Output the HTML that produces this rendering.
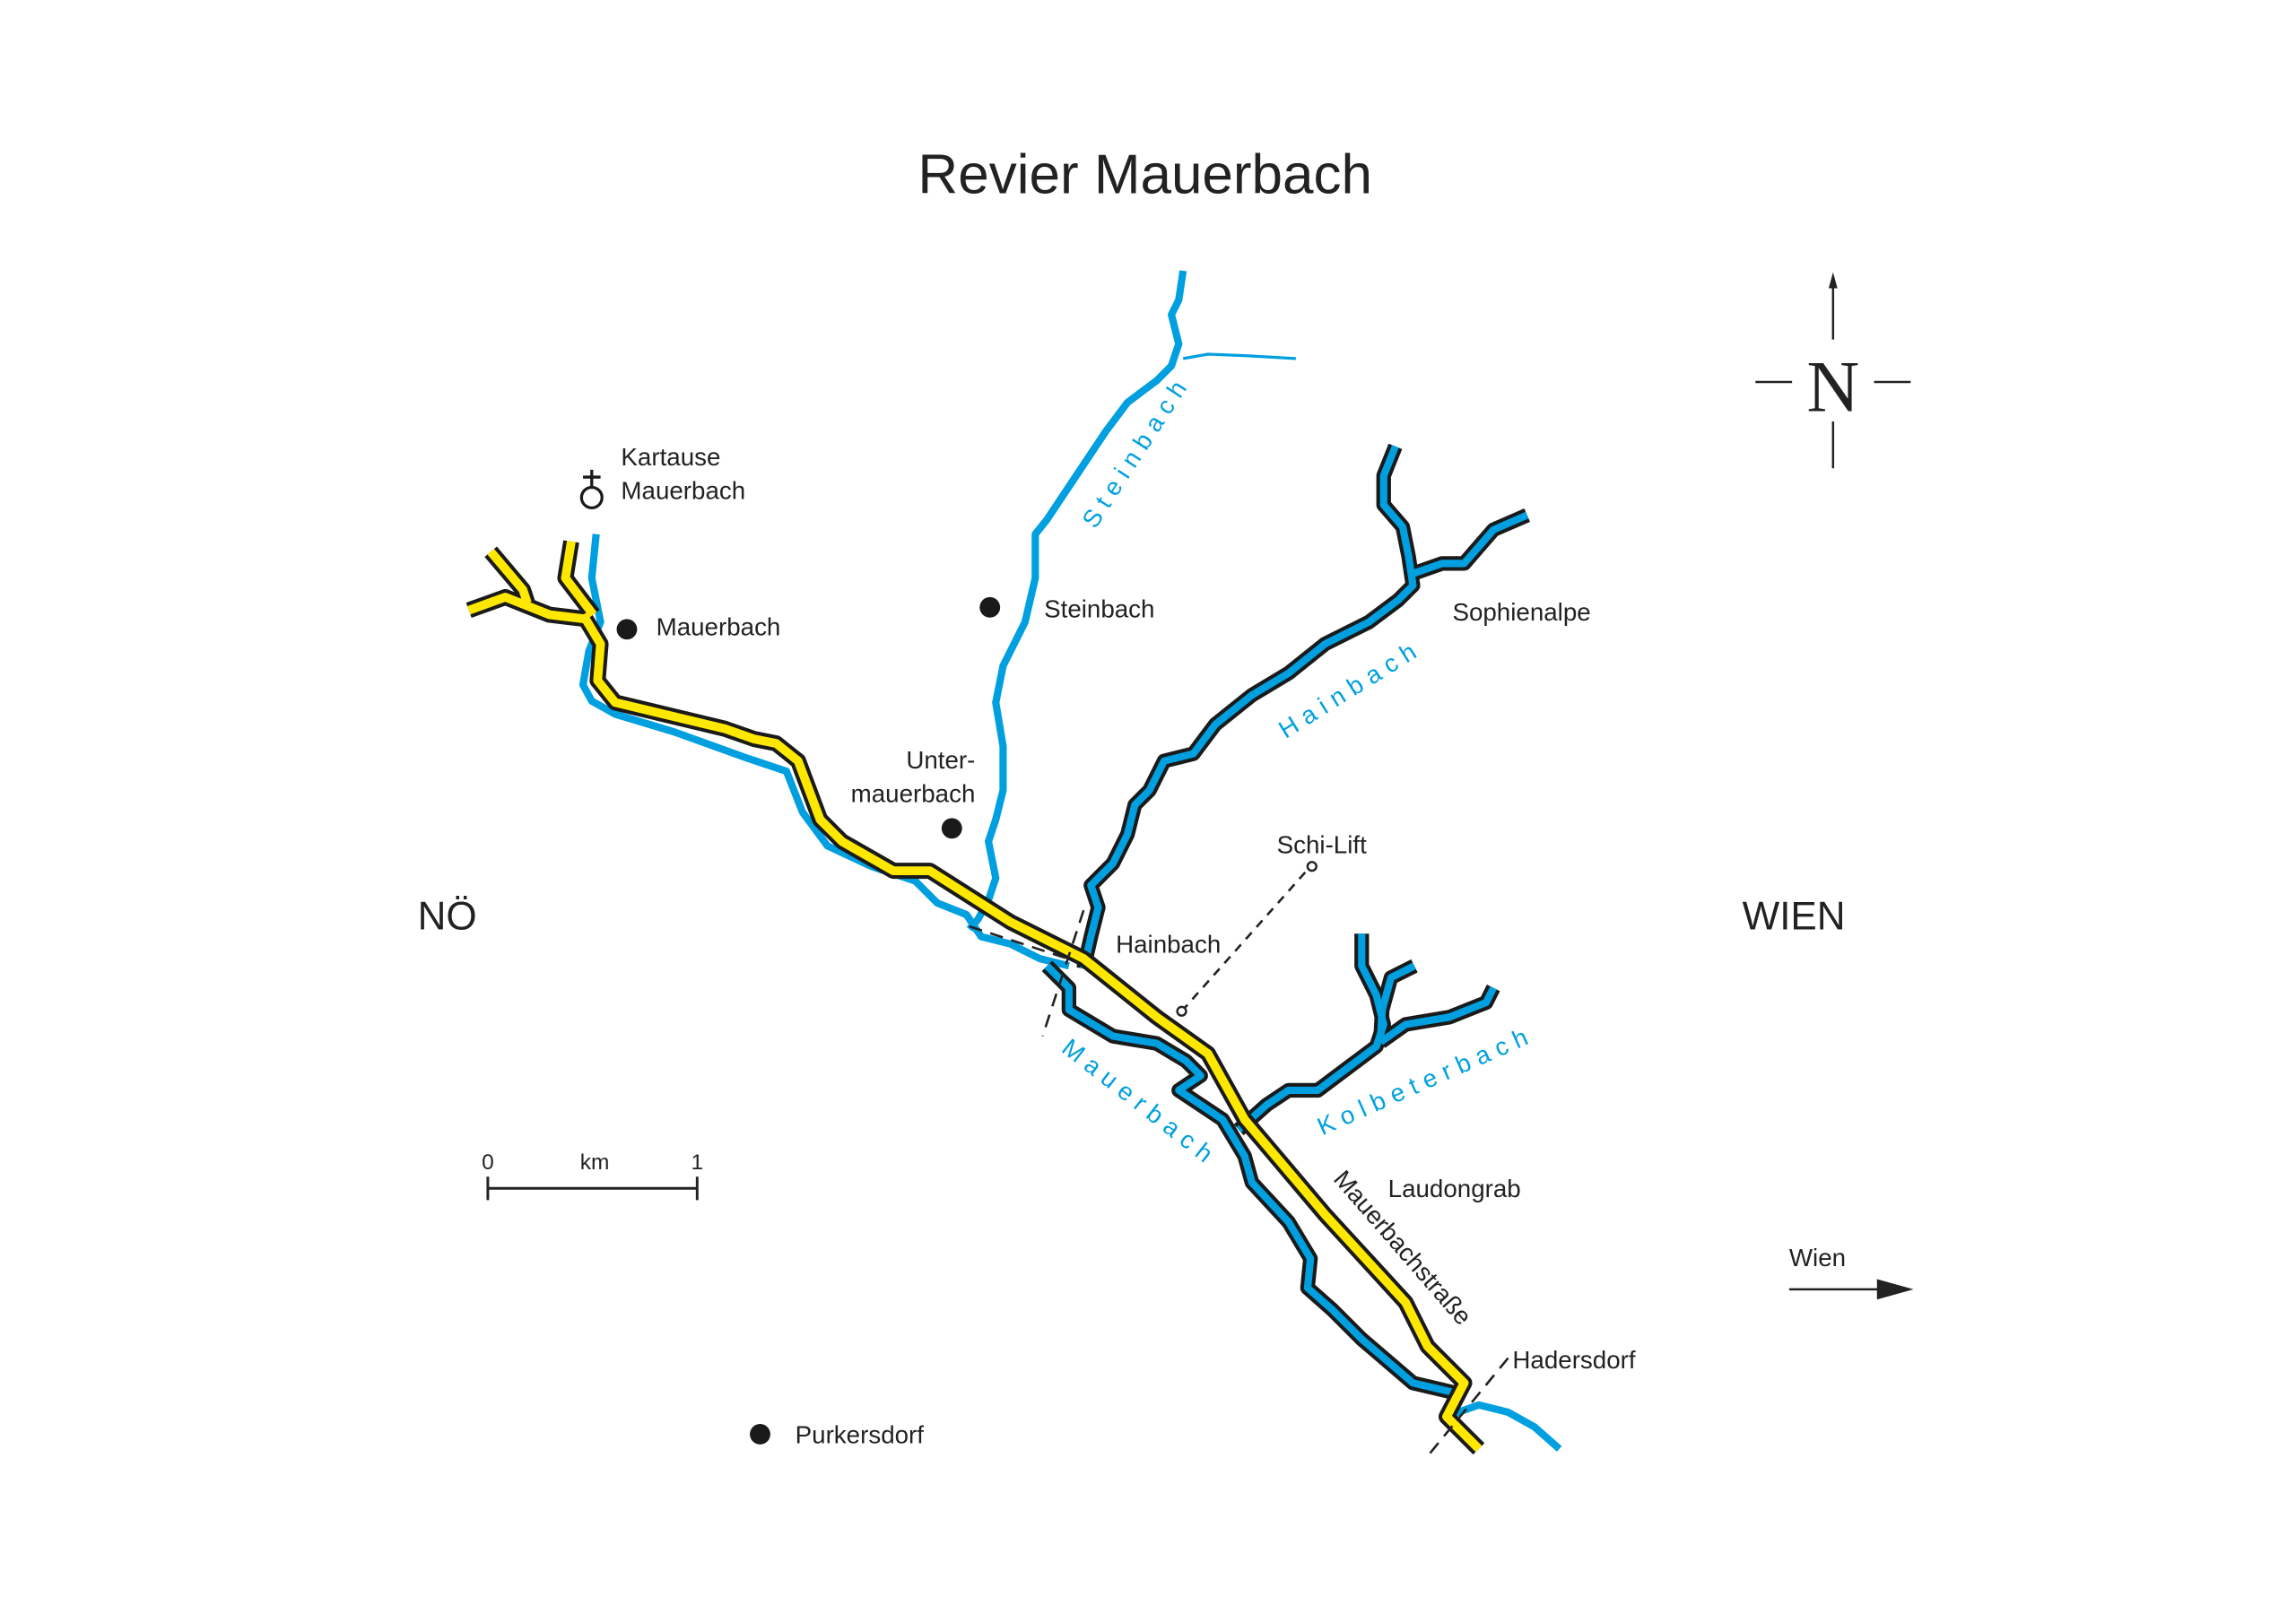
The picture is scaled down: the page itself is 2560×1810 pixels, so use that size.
<!DOCTYPE html>
<html><head><meta charset="utf-8"><style>
html,body{margin:0;padding:0;background:#fff;}
svg{display:block;}
text{font-family:"Liberation Sans",sans-serif;fill:#222;}
.b{fill:#00a0e0;letter-spacing:5px;}
</style></head><body>
<svg width="2560" height="1810" viewBox="0 0 1568 1109" xmlns="http://www.w3.org/2000/svg">
<rect width="1568" height="1109" fill="#fff"/>
<g fill="none" stroke-linecap="butt" stroke-linejoin="round">
<path d="M407,365 L404,395 L410,425 L402,445 L398,468 L404,479 L420,488 L460,500 L510,518 L537,527 L548,555 L565,578 L595,592 L625,602 L640,617 L660,625 L670,640 L690,645 L710,655 L730,660" stroke="#00a0e0" stroke-width="5"/>
<path d="M808,185 L805,205 L800,215 L805,235 L800,250 L790,260 L770,275 L755,295 L735,325 L715,355 L707,365 L707,395 L700,425 L685,455 L680,480 L685,510 L685,540 L680,560 L675,575 L680,600 L675,615 L668,628 L662,635" stroke="#00a0e0" stroke-width="5"/>
<path d="M808,245 L825,242 L850,243 L885,245" stroke="#00a0e0" stroke-width="2"/>
<path d="M993,966 L1010,960 L1030,965 L1048,975 L1065,990" stroke="#00a0e0" stroke-width="5"/>
<g id="os">
<path d="M715,660 L730,675 L730,690 L760,708 L790,713 L810,725 L820,735 L805,745 L835,765 L850,790 L855,808 L880,835 L895,860 L893,880 L910,895 L930,915 L965,945 L995,952"/>
<path d="M953,305 L945,325 L945,345 L958,360 L962,380 L965,400 L955,410 L935,425 L905,440 L880,460 L855,475 L830,495 L815,515 L795,520 L785,540 L775,550 L770,570 L760,590 L745,605 L750,620 L745,640 L740,662"/>
<path d="M965,392 L985,385 L1000,385 L1020,362 L1043,352"/>
<path d="M930,638 L930,660 L940,680 L945,700 L940,715 L920,730 L900,745 L880,745 L865,755 L846,772"/>
<path d="M966,660 L950,668 L944,690 L943,708"/>
<path d="M943,712 L960,700 L990,695 L1015,685 L1020,675"/>
</g>
</g>
<use href="#os" stroke="#1a1a1a" stroke-width="10" fill="none" stroke-linejoin="round"/>
<g fill="none" stroke="#00a0e0" stroke-width="5" stroke-linejoin="round">
<path d="M715,660 L730,675 L730,690 L760,708 L790,713 L810,725 L820,735 L805,745 L835,765 L850,790 L855,808 L880,835 L895,860 L893,880 L910,895 L930,915 L965,945 L995,952"/>
<path d="M953,305 L945,325 L945,345 L958,360 L962,380 L965,400 L955,410 L935,425 L905,440 L880,460 L855,475 L830,495 L815,515 L795,520 L785,540 L775,550 L770,570 L760,590 L745,605 L750,620 L745,640 L740,662"/>
<path d="M965,392 L985,385 L1000,385 L1020,362 L1043,352"/>
<path d="M930,638 L930,660 L940,680 L945,700 L940,715 L920,730 L900,745 L880,745 L865,755 L846,772"/>
<path d="M966,660 L950,668 L944,690 L943,708"/>
<path d="M943,712 L960,700 L990,695 L1015,685 L1020,675"/>
</g>
<g id="rd" fill="none" stroke-linejoin="round">
<path d="M335,377 L357,403 L360,412"/>
<path d="M320,417 L345,408 L375,420 L400,423"/>
<path d="M390,370 L386,395 L405,420"/>
<path d="M398,420 L410,440 L408,465 L420,480 L495,498 L515,505 L530,508 L545,520 L560,560 L575,575 L610,595 L635,595 L690,630 L740,655 L790,695 L825,720 L850,765 L905,830 L960,890 L975,920 L1000,945 L988,968 L1010,990"/>
</g>
<use href="#rd" stroke="#1a1a1a" stroke-width="11" stroke-linejoin="round"/>
<use href="#rd" stroke="#ffe800" stroke-width="6" stroke-linejoin="round"/>
<g stroke="#222" stroke-width="1.6" stroke-dasharray="9,6" fill="none">
<path d="M662,633 L735,657"/>
<path d="M740,622 L712,708"/>
<path d="M1030,928 L975,995"/>
<path d="M807,691 L895,592" stroke-dasharray="6,5"/>
</g>
<circle cx="807" cy="691" r="3" fill="#fff" stroke="#222" stroke-width="1.5"/>
<circle cx="896" cy="592" r="3" fill="#fff" stroke="#222" stroke-width="1.5"/>
<g fill="#1a1a1a">
<circle cx="428" cy="430" r="7"/>
<circle cx="676" cy="415" r="7"/>
<circle cx="650" cy="566" r="7"/>
<circle cx="519" cy="980" r="7"/>
</g>
<circle cx="404" cy="340" r="7" fill="none" stroke="#1a1a1a" stroke-width="2"/>
<path d="M404,321 V333 M398,326 H410" stroke="#1a1a1a" stroke-width="2"/>
<path d="M1252,195 V232 M1252,288 V320 M1199,261 H1224 M1280,261 H1305" stroke="#222" stroke-width="1.5"/>
<path d="M1252,186 L1249,197 L1255,197 Z" fill="#222"/>
<text x="1252" y="281" font-size="50" text-anchor="middle" style="font-family:'Liberation Serif',serif">N</text>
<path d="M333,812 H476 M333,804 V820 M476,804 V820" stroke="#222" stroke-width="1.8"/>
<text x="333" y="799" font-size="15" text-anchor="middle">0</text>
<text x="406" y="799" font-size="15" text-anchor="middle">km</text>
<text x="476" y="799" font-size="15" text-anchor="middle">1</text>
<path d="M1222,881 H1288" stroke="#222" stroke-width="1.6"/>
<path d="M1282,874 L1307,881 L1282,888 Z" fill="#222"/>
<text x="782" y="132" font-size="38" text-anchor="middle">Revier Mauerbach</text>
<g font-size="17">
<text x="424" y="318">Kartause</text>
<text x="424" y="341">Mauerbach</text>
<text x="448" y="434">Mauerbach</text>
<text x="713" y="422">Steinbach</text>
<text x="992" y="424">Sophienalpe</text>
<text x="666" y="525" text-anchor="end">Unter-</text>
<text x="666" y="548" text-anchor="end">mauerbach</text>
<text x="872" y="583">Schi-Lift</text>
<text x="762" y="651">Hainbach</text>
<text x="948" y="818">Laudongrab</text>
<text x="1033" y="935">Hadersdorf</text>
<text x="543" y="986">Purkersdorf</text>
<text x="1222" y="865">Wien</text>
<text transform="translate(910,806) rotate(49)">Mauerbachstraße</text>
</g>
<text x="285" y="635" font-size="27">NÖ</text>
<text x="1190" y="635" font-size="27">WIEN</text>
<g font-size="17">
<text class="b" transform="translate(748,362) rotate(-57)">Steinbach</text>
<text class="b" transform="translate(878,505) rotate(-32)">Hainbach</text>
<text class="b" transform="translate(724,718) rotate(38)">Mauerbach</text>
<text class="b" transform="translate(903,776) rotate(-24)">Kolbeterbach</text>
</g>
</svg>
</body></html>
